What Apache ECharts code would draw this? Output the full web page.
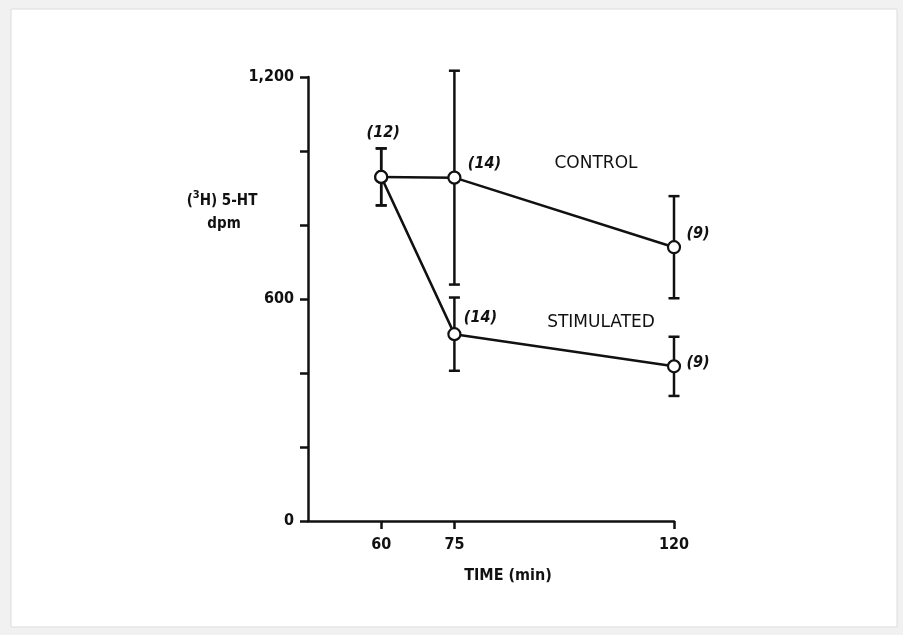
<!DOCTYPE html>
<html>
<head>
<meta charset="utf-8">
<script src="https://cdn.jsdelivr.net/npm/echarts@6/dist/echarts.min.js"></script>
<style>
  html, body { margin: 0; padding: 0; background: #f1f1f1; }
  #chart { width: 903px; height: 635px; }
</style>
</head>
<body>
<div id="chart"></div>
<script>
// Sampling times (min) and tritiated 5-HT release (dpm), mean and error
const times = [60, 75, 120];
const controlMean = [930, 928, 740];
const controlErr = [77, 289, 138];
const stimMean = [930, 505, 418];
const stimErr = [77, 99, 80];
// number of observations per point
const controlN = [12, 14, 9];
const stimN = [null, 14, 9];
const xTicks = [60, 75, 120];
const yLabelled = [0, 600, 1200];

const tickFont = '"DejaVu Sans Condensed", "DejaVu Sans", sans-serif';
const condFont = '"DejaVu Sans Condensed", "DejaVu Sans", sans-serif';
const ink = '#111';
const stroke = 2.5;

// per-point label offsets for the (n) annotations
const ctrlOffsets = [[2, -44], [30, -14], [24, -13]];
const stimOffsets = [[0, 0], [26, -16], [24, -3]];

function errData(mean, err) {
  return times.map((t, i) => [t, mean[i] - err[i], mean[i] + err[i]]);
}

function renderErr(params, api) {
  const x = api.value(0);
  const lo = api.coord([x, api.value(1)]);
  const hi = api.coord([x, api.value(2)]);
  const w = 5.5;
  const style = { stroke: ink, lineWidth: stroke };
  return {
    type: 'group',
    children: [
      { type: 'line', shape: { x1: lo[0], y1: lo[1], x2: hi[0], y2: hi[1] }, style },
      { type: 'line', shape: { x1: lo[0] - w, y1: lo[1], x2: lo[0] + w, y2: lo[1] }, style },
      { type: 'line', shape: { x1: hi[0] - w, y1: hi[1], x2: hi[0] + w, y2: hi[1] }, style }
    ]
  };
}

function lineData(mean, ns, offsets) {
  return times.map((t, i) => ({
    value: [t, mean[i]],
    label: ns[i] == null ? { show: false } : {
      show: true,
      formatter: '(' + ns[i] + ')',
      position: 'inside',
      offset: offsets[i]
    }
  }));
}

const nLabel = {
  color: ink,
  fontFamily: condFont,
  fontWeight: 'bold',
  fontStyle: 'italic',
  fontSize: 16
};

const lineSeries = (name, mean, ns, offsets) => ({
  name,
  type: 'line',
  z: 5,
  data: lineData(mean, ns, offsets),
  symbol: 'circle',
  symbolSize: 12,
  lineStyle: { color: ink, width: stroke },
  itemStyle: { color: '#fff', borderColor: ink, borderWidth: 2.2 },
  label: nLabel,
  emphasis: { disabled: true },
  animation: false
});

const base = { fontFamily: condFont, fontWeight: 'bold', fontSize: 15, fill: ink, lineHeight: 19, verticalAlign: 'bottom' };

const chart = echarts.init(document.getElementById('chart'), null, { renderer: 'canvas' });
chart.setOption({
  backgroundColor: '#f1f1f1',
  animation: false,
  grid: { left: 308, right: 229, top: 77, bottom: 114 },
  xAxis: {
    type: 'value',
    min: 45,
    max: 120,
    splitLine: { show: false },
    axisLine: { lineStyle: { color: ink, width: stroke } },
    axisTick: { customValues: xTicks, length: 8, lineStyle: { color: ink, width: stroke } },
    axisLabel: {
      customValues: xTicks,
      margin: 16,
      color: ink,
      fontFamily: tickFont,
      fontWeight: 'bold',
      fontSize: 16
    }
  },
  yAxis: {
    type: 'value',
    min: 0,
    max: 1200,
    interval: 200,
    splitLine: { show: false },
    axisLine: { show: true, lineStyle: { color: ink, width: stroke } },
    axisTick: { show: true, length: 8, lineStyle: { color: ink, width: stroke } },
    axisLabel: {
      margin: 14,
      color: ink,
      fontFamily: tickFont,
      fontWeight: 'bold',
      fontSize: 16,
      formatter: v => yLabelled.includes(v) ? v.toLocaleString('en-US') : ''
    }
  },
  graphic: [
    {
      type: 'rect', z: -10, silent: true,
      shape: { x: 11, y: 9, width: 886, height: 618 },
      style: { fill: '#ffffff', stroke: '#dcdcdc', lineWidth: 1 }
    },
    {
      type: 'text', x: 222, y: 199,
      style: {
        text: '{b|(}{s|3}{b|H) 5-HT}',
        align: 'center', verticalAlign: 'middle',
        rich: {
          b: base,
          s: { fontFamily: condFont, fontWeight: 'bold', fontSize: 11, fill: ink, lineHeight: 19, verticalAlign: 'top' }
        }
      }
    },
    {
      type: 'text', x: 224, y: 224,
      style: {
        text: 'dpm', fill: ink, align: 'center', verticalAlign: 'middle',
        fontFamily: condFont, fontWeight: 'bold', fontSize: 15
      }
    },
    {
      type: 'text', x: 508, y: 576,
      style: {
        text: 'TIME (min)', fill: ink, align: 'center', verticalAlign: 'middle',
        fontFamily: condFont, fontWeight: 'bold', fontSize: 16
      }
    },
    {
      type: 'text', x: 596, y: 164,
      style: {
        text: 'CONTROL', fill: ink, align: 'center', verticalAlign: 'middle',
        fontFamily: '"DejaVu Sans", sans-serif', fontSize: 17
      }
    },
    {
      type: 'text', x: 601, y: 323,
      style: {
        text: 'STIMULATED', fill: ink, align: 'center', verticalAlign: 'middle',
        fontFamily: '"DejaVu Sans", sans-serif', fontSize: 17
      }
    }
  ],
  series: [
    {
      type: 'custom', z: 2, renderItem: renderErr,
      encode: { x: 0, y: [1, 2] },
      data: errData(controlMean, controlErr), silent: true
    },
    {
      type: 'custom', z: 2, renderItem: renderErr,
      encode: { x: 0, y: [1, 2] },
      data: errData(stimMean, stimErr), silent: true
    },
    lineSeries('CONTROL', controlMean, controlN, ctrlOffsets),
    lineSeries('STIMULATED', stimMean, stimN, stimOffsets)
  ]
});
</script>
</body>
</html>
